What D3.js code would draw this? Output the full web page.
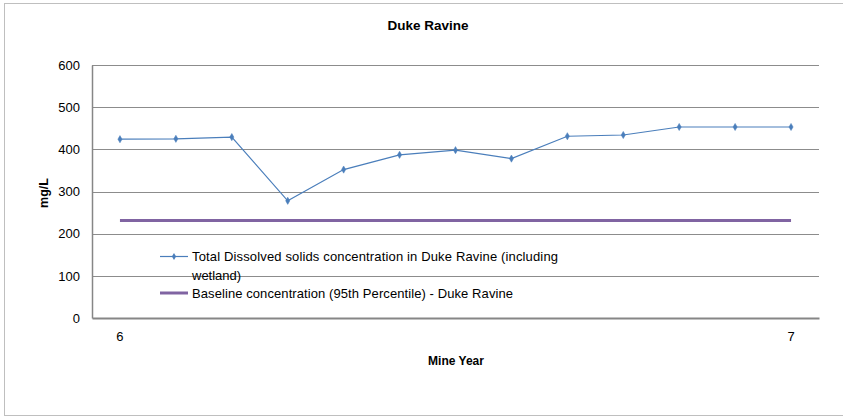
<!DOCTYPE html>
<html><head><meta charset="utf-8">
<script src="https://cdn.jsdelivr.net/npm/d3@7"></script>
<style>body{margin:0;background:#fff}svg{display:block}text{font-family:"Liberation Sans",Arial,sans-serif;fill:#000}</style>
</head><body><svg id="c" width="843" height="417"></svg>
<script>
const categories = ["6","","","","","","","","","","","","7"];
const tdsValues = [424,425,429,278,352,387,398,378,431,434,453,453,453];
const baselineValue = 231;
const yTicks = [0,100,200,300,400,500,600];
const seriesNames = ["Total Dissolved solids concentration in Duke Ravine (including","wetland)","Baseline concentration (95th Percentile) - Duke Ravine"];

const svg = d3.select("#c");
svg.append("rect").attr("x",4.5).attr("y",3.5).attr("width",850).attr("height",412).attr("fill","#fff").attr("stroke","#bfbfbf").attr("stroke-width",1);

const m={l:92,r:819,t:65,b:318};
const x=d3.scaleBand().domain(d3.range(categories.length)).range([m.l,m.r]);
const cx=i=>x(i)+x.bandwidth()/2;
const y=d3.scaleLinear().domain([0,600]).range([m.b,m.t]);

// gridlines
svg.append("g").selectAll("line").data(yTicks.filter(d=>d>0)).join("line")
 .attr("x1",m.l).attr("x2",m.r).attr("y1",d=>Math.round(y(d))+0.5).attr("y2",d=>Math.round(y(d))+0.5)
 .attr("stroke","#8c8c8c").attr("stroke-width",1);

// y axis
const ya=svg.append("g").attr("transform",`translate(${m.l},0)`).call(d3.axisLeft(y).tickValues(yTicks).tickSize(0).tickPadding(12));
ya.select(".domain").attr("stroke","#868686").attr("stroke-width",1.5);
ya.selectAll("text").attr("font-size",13).style("font-family","Liberation Sans, Arial");
// x axis
const xa=svg.append("g").attr("transform",`translate(0,${m.b})`).call(d3.axisBottom(x).tickFormat(i=>categories[i]).tickSize(0).tickPadding(14));
xa.select(".domain").attr("stroke","#868686").attr("stroke-width",2);
xa.selectAll("text").attr("font-size",13).style("font-family","Liberation Sans, Arial");

// baseline
svg.append("line").attr("x1",cx(0)).attr("x2",cx(categories.length-1))
 .attr("y1",y(baselineValue)).attr("y2",y(baselineValue)).attr("stroke","#8064a2").attr("stroke-width",3);

// TDS line
const line=d3.line().x((d,i)=>cx(i)).y(d=>y(d));
svg.append("path").datum(tdsValues).attr("d",line).attr("fill","none").attr("stroke","#4a7ebb").attr("stroke-width",1.2);
const diamond=d3.symbol().type(d3.symbolDiamond).size(15);
svg.append("g").selectAll("path").data(tdsValues).join("path")
 .attr("transform",(d,i)=>`translate(${cx(i)},${y(d)})`).attr("d",diamond).attr("fill","#4a7ebb").attr("stroke","#4a7ebb").attr("stroke-width",0.5);

// titles
svg.append("text").attr("x",428).attr("y",30).attr("text-anchor","middle").attr("font-weight","bold").attr("font-size",13.5).text("Duke Ravine");
svg.append("text").attr("x",456).attr("y",365).attr("text-anchor","middle").attr("font-weight","bold").attr("font-size",12).text("Mine Year");
svg.append("text").attr("transform","translate(48,193) rotate(-90)").attr("text-anchor","middle").attr("font-weight","bold").attr("font-size",12.5).text("mg/L");

// legend
const lg=svg.append("g");
lg.append("line").attr("x1",160).attr("x2",188).attr("y1",256.5).attr("y2",256.5).attr("stroke","#4a7ebb").attr("stroke-width",1.2);
lg.append("path").attr("transform","translate(174,256.5)").attr("d",diamond).attr("fill","#4a7ebb");
lg.append("text").attr("x",192).attr("y",261).attr("font-size",13).attr("textLength",366).text(seriesNames[0]);
lg.append("text").attr("x",192).attr("y",279.5).attr("font-size",13).text(seriesNames[1]);
lg.append("line").attr("x1",160).attr("x2",188).attr("y1",293).attr("y2",293).attr("stroke","#8064a2").attr("stroke-width",3);
lg.append("text").attr("x",192).attr("y",297.5).attr("font-size",13).attr("textLength",321).text(seriesNames[2]);
</script></body></html>
